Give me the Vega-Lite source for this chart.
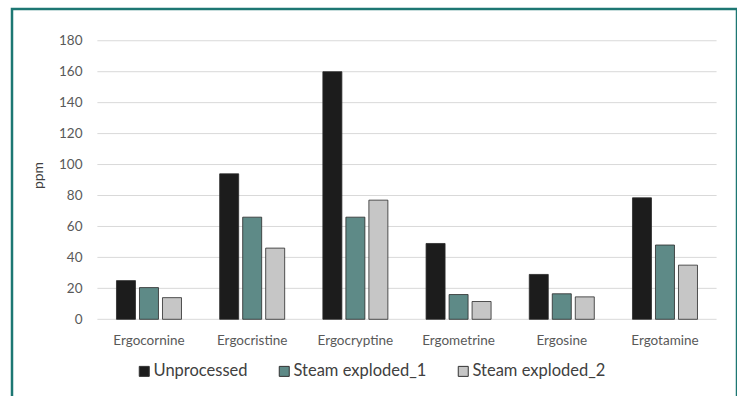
{
  "$schema": "https://vega.github.io/schema/vega-lite/v6.json",
  "autosize": "none",
  "padding": {"left": 12, "top": 9, "right": 0, "bottom": 0},
  "width": 725,
  "height": 400,
  "background": "white",
  "config": {
    "font": "Lato",
    "view": {"stroke": "#1d7773", "strokeWidth": 2.5}
  },
  "datasets": {
    "alkaloids": [
      {"compound": "Ergocornine", "treatment": "Unprocessed", "ppm": 25},
      {"compound": "Ergocornine", "treatment": "Steam exploded_1", "ppm": 20.5},
      {"compound": "Ergocornine", "treatment": "Steam exploded_2", "ppm": 14},
      {"compound": "Ergocristine", "treatment": "Unprocessed", "ppm": 94},
      {"compound": "Ergocristine", "treatment": "Steam exploded_1", "ppm": 66},
      {"compound": "Ergocristine", "treatment": "Steam exploded_2", "ppm": 46},
      {"compound": "Ergocryptine", "treatment": "Unprocessed", "ppm": 160},
      {"compound": "Ergocryptine", "treatment": "Steam exploded_1", "ppm": 66},
      {"compound": "Ergocryptine", "treatment": "Steam exploded_2", "ppm": 77},
      {"compound": "Ergometrine", "treatment": "Unprocessed", "ppm": 49},
      {"compound": "Ergometrine", "treatment": "Steam exploded_1", "ppm": 16},
      {"compound": "Ergometrine", "treatment": "Steam exploded_2", "ppm": 11.5},
      {"compound": "Ergosine", "treatment": "Unprocessed", "ppm": 29},
      {"compound": "Ergosine", "treatment": "Steam exploded_1", "ppm": 16.5},
      {"compound": "Ergosine", "treatment": "Steam exploded_2", "ppm": 14.5},
      {"compound": "Ergotamine", "treatment": "Unprocessed", "ppm": 78.5},
      {"compound": "Ergotamine", "treatment": "Steam exploded_1", "ppm": 48},
      {"compound": "Ergotamine", "treatment": "Steam exploded_2", "ppm": 35}
    ],
    "gridlines": [
      {"ppm": 0}, {"ppm": 20}, {"ppm": 40}, {"ppm": 60}, {"ppm": 80},
      {"ppm": 100}, {"ppm": 120}, {"ppm": 140}, {"ppm": 160}, {"ppm": 180}
    ]
  },
  "encoding": {
    "y": {
      "field": "ppm",
      "type": "quantitative",
      "scale": {"domain": [-57.96, 200.52], "nice": false, "zero": false},
      "axis": {
        "title": "ppm",
        "values": [0, 20, 40, 60, 80, 100, 120, 140, 160, 180],
        "grid": false,
        "domain": false,
        "ticks": false,
        "tickSize": 0,
        "labelPadding": 0,
        "offset": -70,
        "labelFont": "Lato",
        "labelFontSize": 13.5,
        "labelColor": "#595959",
        "titleFont": "Lato",
        "titleFontSize": 14,
        "titleFontWeight": "normal",
        "titleColor": "#404040",
        "titleAngle": -90,
        "titleX": -44,
        "titleY": 166,
        "titleAlign": "center",
        "titleBaseline": "middle"
      }
    }
  },
  "layer": [
    {
      "data": {"name": "gridlines"},
      "mark": {"type": "rule", "color": "#d9d9d9", "strokeWidth": 1},
      "encoding": {
        "x": {
          "datum": "Ergocornine",
          "type": "nominal",
          "bandPosition": 0,
          "scale": {
            "domain": ["Ergocornine", "Ergocristine", "Ergocryptine", "Ergometrine", "Ergosine", "Ergotamine"],
            "paddingInner": 0,
            "paddingOuter": 0.5126,
            "align": 0.807
          },
          "axis": {
            "title": null,
            "orient": "bottom",
            "domain": false,
            "ticks": false,
            "tickSize": 0,
            "grid": false,
            "labelPadding": 0,
            "offset": -69,
            "labelAngle": 0,
            "labelBaseline": "middle",
            "labelFont": "Lato",
            "labelFontSize": 13.5,
            "labelColor": "#595959"
          }
        },
        "x2": {"datum": "Ergotamine", "bandPosition": 1}
      }
    },
    {
      "data": {"name": "alkaloids"},
      "mark": {"type": "bar", "stroke": "#2a2a2a", "strokeWidth": 0.8},
      "encoding": {
        "x": {
          "field": "compound",
          "type": "nominal",
          "sort": null,
          "scale": {
            "domain": ["Ergocornine", "Ergocristine", "Ergocryptine", "Ergometrine", "Ergosine", "Ergotamine"],
            "paddingInner": 0,
            "paddingOuter": 0.5126,
            "align": 0.807
          },
          "axis": {
            "title": null,
            "orient": "bottom",
            "domain": false,
            "ticks": false,
            "tickSize": 0,
            "grid": false,
            "labelPadding": 0,
            "offset": -69,
            "labelAngle": 0,
            "labelBaseline": "middle",
            "labelFont": "Lato",
            "labelFontSize": 13.5,
            "labelColor": "#595959"
          }
        },
        "xOffset": {
          "field": "treatment",
          "type": "nominal",
          "sort": ["Unprocessed", "Steam exploded_1", "Steam exploded_2"],
          "scale": {"paddingInner": 0.174, "paddingOuter": 0.83}
        },
        "color": {
          "field": "treatment",
          "type": "nominal",
          "sort": ["Unprocessed", "Steam exploded_1", "Steam exploded_2"],
          "scale": {
            "domain": ["Unprocessed", "Steam exploded_1", "Steam exploded_2"],
            "range": ["#1c1c1c", "#5e8a87", "#c6c6c6"]
          },
          "legend": {
            "title": null,
            "orient": "none",
            "legendX": 124,
            "legendY": 354,
            "direction": "horizontal",
            "symbolType": "square",
            "symbolSize": 100,
            "symbolStrokeColor": "#333333",
            "symbolStrokeWidth": 1,
            "labelFont": "Lato",
            "labelFontSize": 16.5,
            "labelColor": "#404040",
            "labelOffset": 1,
            "columnPadding": 28
          }
        }
      }
    }
  ]
}
